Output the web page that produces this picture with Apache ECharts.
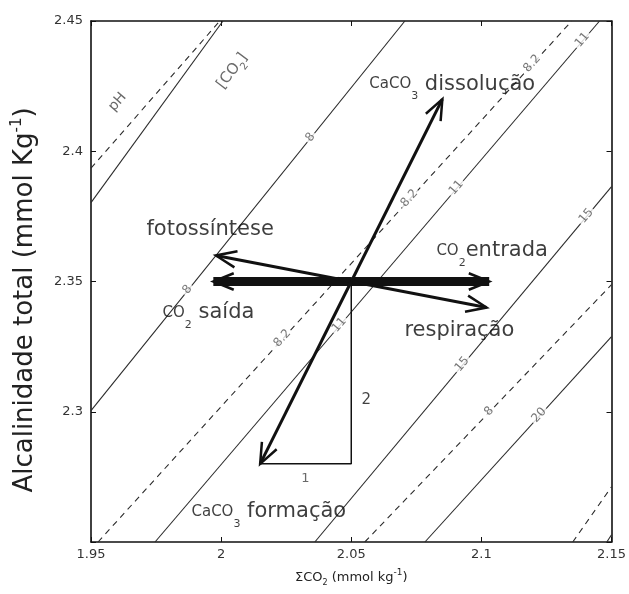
<!DOCTYPE html>
<html>
<head>
<meta charset="utf-8">
<script src="https://cdn.jsdelivr.net/npm/echarts@6/dist/echarts.min.js"></script>
<style>
  html, body { margin: 0; padding: 0; background: #fff; }
  #chart { width: 629px; height: 594px; }
</style>
</head>
<body>
<div id="chart"></div>
<script>
// Axis ticks (DIC on x, total alkalinity on y, mmol/kg)
const xTicks = [1.95, 2.0, 2.05, 2.1, 2.15];
const xTickLabels = ['1.95', '2', '2.05', '2.1', '2.15'];
const yTicks = [2.25, 2.3, 2.35, 2.4, 2.45];
const yTickLabels = ['', '2.3', '2.35', '2.4', '2.45'];

// [CO2] isolines (solid), endpoints where they meet the frame
const co2Level = ['', '8', '11', '15', '20', ''];
const co2Lines = [
  [[1.95, 2.3803], [2.0007, 2.45]],
  [[1.95, 2.3004], [2.0706, 2.45]],
  [[1.9746, 2.25], [2.1454, 2.45]],
  [[2.036, 2.25], [2.15, 2.3864]],
  [[2.0783, 2.25], [2.15, 2.3288]],
  [[2.1482, 2.25], [2.15, 2.2528]]
];
// pH isolines (dashed)
const phLevel = ['', '8.2', '8', ''];
const phLines = [
  [[1.95, 2.3935], [1.9995, 2.45]],
  [[1.9527, 2.25], [2.1347, 2.45]],
  [[2.0552, 2.25], [2.15, 2.3488]],
  [[2.1351, 2.25], [2.15, 2.2712]]
];
// inline contour labels: [line index, x, y]
const co2LabelPos = [
  [1, 1.9873, 2.3467], [1, 2.0345, 2.4052],
  [2, 2.0456, 2.3331], [2, 2.0906, 2.3858], [2, 2.1390, 2.4425],
  [3, 2.0928, 2.3180], [3, 2.1405, 2.3750],
  [4, 2.1224, 2.2985]
];
const phLabelPos = [
  [1, 2.0237, 2.3280], [1, 2.0725, 2.3817], [1, 2.1197, 2.4335],
  [2, 2.1032, 2.3000]
];

// process vectors, all starting from the same state
const arrowFrom = [2.05, 2.35];
const arrowTo = [
  [1.997, 2.35],  // CO2 saída
  [2.103, 2.35],  // CO2 entrada
  [1.998, 2.36],  // fotossíntese
  [2.102, 2.34],  // respiração
  [2.085, 2.42],  // CaCO3 dissolução
  [2.015, 2.28]   // CaCO3 formação
];
const arrowWidth = [9, 9, 3, 3, 3, 3];

// 1 : 2 slope triangle of the carbonate vector
const triangleX = [2.015, 2.05, 2.05];
const triangleY = [2.28, 2.28, 2.35];

// text annotations placed in data space
const notes = [
  { text: '{sm|CaCO}{sub|3}{big| dissolução}', at: [2.0571, 2.4256], align: 'left' },
  { text: '{big|fotossíntese}', at: [1.9715, 2.3696], align: 'left' },
  { text: '{sm|CO}{sub|2}{big|entrada}', at: [2.0829, 2.3615], align: 'left' },
  { text: '{sm|CO}{sub|2}{big| saída}', at: [1.9777, 2.3377], align: 'left' },
  { text: '{big|respiração}', at: [2.0706, 2.3311], align: 'left' },
  { text: '{sm|CaCO}{sub|3}{big| formação}', at: [1.9888, 2.2614], align: 'left' },
  { text: '{one|1}', at: [2.0326, 2.2741], align: 'center' },
  { text: '{two|2}', at: [2.0560, 2.3041], align: 'center' },
  { text: '{ph|pH}', at: [1.9604, 2.4187], align: 'center', rotate: 49 },
  { text: '{co|[CO}{cosub|2}{co|]}', at: [2.0045, 2.4306], align: 'center', rotate: 53 }
];

const FONT = 'DejaVu Sans';
const X_MIN = 1.95, X_MAX = 2.15, Y_MIN = 2.25, Y_MAX = 2.45, STEP = 0.05;

function lineAngle(seg) {
  const dx = seg[1][0] - seg[0][0];
  const dy = seg[1][1] - seg[0][1];
  return Math.atan2(dy, dx) * 180 / Math.PI;
}

const contourLabelData = [];
co2LabelPos.forEach(([i, x, y]) => contourLabelData.push({
  value: [x, y], name: co2Level[i], label: { rotate: lineAngle(co2Lines[i]) }
}));
phLabelPos.forEach(([i, x, y]) => contourLabelData.push({
  value: [x, y], name: phLevel[i], label: { rotate: lineAngle(phLines[i]) }
}));

const isoSeries = [];
co2Lines.forEach((seg) => isoSeries.push({
  type: 'line', data: seg, symbol: 'none', silent: true, z: 2,
  lineStyle: { color: '#2a2a2a', width: 1.1, type: 'solid' }
}));
phLines.forEach((seg) => isoSeries.push({
  type: 'line', data: seg, symbol: 'none', silent: true, z: 2,
  lineStyle: { color: '#2a2a2a', width: 1.1, type: [6, 5] }
}));

function renderArrow(params, api) {
  const p0 = api.coord([api.value(0), api.value(1)]);
  const p1 = api.coord([api.value(2), api.value(3)]);
  const w = api.value(4);
  const ang = Math.atan2(p1[1] - p0[1], p1[0] - p0[0]);
  const L = 22, phi = 22 * Math.PI / 180;
  const a1 = [p1[0] - L * Math.cos(ang - phi), p1[1] - L * Math.sin(ang - phi)];
  const a2 = [p1[0] - L * Math.cos(ang + phi), p1[1] - L * Math.sin(ang + phi)];
  return {
    type: 'group',
    children: [
      { type: 'line', shape: { x1: p0[0], y1: p0[1], x2: p1[0], y2: p1[1] },
        style: { stroke: '#111', lineWidth: w } },
      { type: 'polyline', shape: { points: [a1, p1, a2] },
        style: { stroke: '#111', lineWidth: 2.5, fill: null } }
    ]
  };
}

const INK = '#0d0d0d';
const richNote = {
  big: { fontFamily: FONT, fontSize: 21, color: INK, lineHeight: 24 },
  sm: { fontFamily: FONT, fontSize: 15, color: INK, lineHeight: 24 },
  sub: { fontFamily: FONT, fontSize: 11, color: INK, lineHeight: 10, padding: [25, 0, 0, 0] },
  one: { fontFamily: FONT, fontSize: 13, color: '#444' },
  two: { fontFamily: FONT, fontSize: 15, color: '#111' },
  ph: { fontFamily: FONT, fontSize: 14, color: '#444' },
  co: { fontFamily: FONT, fontSize: 15, color: '#444', lineHeight: 18 },
  cosub: { fontFamily: FONT, fontSize: 10, color: '#444', lineHeight: 8, padding: [14, 0, 0, 0] }
};

const axisCommon = {
  type: 'value', min: X_MIN, max: X_MAX, interval: STEP,
  axisLine: { show: true, onZero: false, lineStyle: { color: '#111', width: 1.6 } },
  axisTick: { show: true, inside: true, length: 5, lineStyle: { color: '#111', width: 1 } },
  splitLine: { show: false }
};

const chart = echarts.init(document.getElementById('chart'), null, { renderer: 'canvas' });
chart.setOption({
  animation: false,
  backgroundColor: '#fff',
  grid: { left: 91, right: 17, top: 21, bottom: 52 },
  xAxis: [
    Object.assign({}, axisCommon, {
      position: 'bottom',
      name: '{t|ΣCO}{sub|2}{t| (mmol kg}{sup|-1}{t|)}',
      nameLocation: 'middle', nameGap: 28,
      nameTextStyle: {
        rich: {
          t: { fontFamily: FONT, fontSize: 13, color: '#222', lineHeight: 16 },
          sub: { fontFamily: FONT, fontSize: 8, color: '#222', lineHeight: 8, padding: [10, 0, 0, 0] },
          sup: { fontFamily: FONT, fontSize: 9, color: '#222', lineHeight: 8, padding: [0, 0, 10, 0] }
        }
      },
      axisLabel: {
        margin: 6, fontFamily: FONT, fontSize: 13, color: '#333',
        formatter: (v) => xTickLabels[Math.round((v - X_MIN) / STEP)] || ''
      }
    }),
    Object.assign({}, axisCommon, { position: 'top', axisLabel: { show: false } })
  ],
  yAxis: [
    Object.assign({}, axisCommon, {
      min: Y_MIN, max: Y_MAX, position: 'left',
      name: '{t|Alcalinidade total (mmol Kg}{sup|-1}{t|)}',
      nameLocation: 'middle', nameRotate: 90, nameGap: 51,
      nameTextStyle: {
        padding: [0, 37, 0, 0],
        rich: {
          t: { fontFamily: FONT, fontSize: 26, color: '#222', lineHeight: 30 },
          sup: { fontFamily: FONT, fontSize: 15, color: '#222', lineHeight: 14, padding: [0, 0, 16, 0] }
        }
      },
      axisLabel: {
        margin: 8, fontFamily: FONT, fontSize: 13, color: '#333',
        formatter: (v) => yTickLabels[Math.round((v - Y_MIN) / STEP)] || ''
      }
    }),
    Object.assign({}, axisCommon, { min: Y_MIN, max: Y_MAX, position: 'right', axisLabel: { show: false } })
  ],
  series: isoSeries.concat([
    {
      type: 'scatter', silent: true, z: 3,
      symbolSize: 1, itemStyle: { color: 'rgba(0,0,0,0)' },
      data: contourLabelData,
      label: {
        show: true, position: [0, 0], align: 'center', verticalAlign: 'middle',
        formatter: (p) => p.name,
        fontFamily: FONT, fontSize: 12, color: '#555',
        backgroundColor: '#fff', padding: [0, 2]
      }
    },
    {
      type: 'line', silent: true, z: 4, symbol: 'none',
      data: triangleX.map((x, i) => [x, triangleY[i]]),
      lineStyle: { color: '#111', width: 1.5 }
    },
    {
      type: 'custom', silent: true, z: 5,
      renderItem: renderArrow,
      encode: { x: [0, 2], y: [1, 3] },
      data: arrowTo.map((p, i) => [arrowFrom[0], arrowFrom[1], p[0], p[1], arrowWidth[i]])
    },
    {
      type: 'scatter', silent: true, z: 6,
      symbolSize: 1, itemStyle: { color: 'rgba(0,0,0,0)' },
      data: notes.map((n) => ({
        value: n.at,
        label: {
          show: true, position: [0, 0], formatter: n.text, color: INK,
          align: n.align, verticalAlign: 'middle', rotate: n.rotate || 0,
          rich: richNote
        }
      }))
    }
  ])
});
</script>
</body>
</html>
